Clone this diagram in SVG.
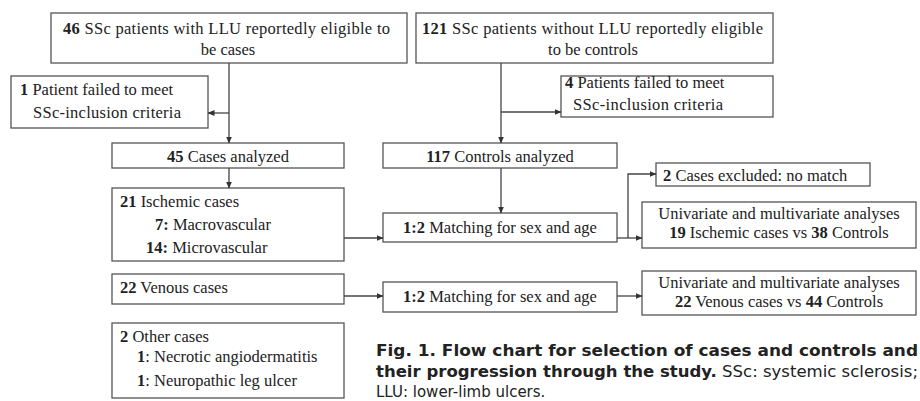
<svg xmlns="http://www.w3.org/2000/svg" width="920" height="401" viewBox="0 0 920 401">
<style>
.box{fill:#fff;stroke:#555;stroke-width:1.3}
.t{font-size:16.5px;fill:#222}
.c{text-anchor:middle}
.b{font-weight:bold}
.cap{font-size:15px;fill:#222}
.ln{fill:none;stroke:#444;stroke-width:1.3}
</style>
<defs>
<marker id="ah" markerWidth="7" markerHeight="6" refX="6.5" refY="3" orient="auto" markerUnits="userSpaceOnUse">
<path d="M0,0 L7,3 L0,6 Z" fill="#333"/>
</marker>
</defs>
<rect width="920" height="401" fill="#fff"/>

<g id="nodes" font-family="Liberation Serif, DejaVu Serif, serif">
<g id="n-cases-eligible">
<rect class="box" x="51" y="13" width="356" height="50"/>
<text class="t" x="63" y="34" textLength="327" lengthAdjust="spacing"><tspan class="b">46</tspan> SSc patients with LLU reportedly eligible to</text>
<text class="t c" x="228" y="55">be cases</text>
</g>

<g id="n-controls-eligible">
<rect class="box" x="416" y="13" width="357" height="50"/>
<text class="t" x="422" y="34" textLength="341" lengthAdjust="spacing"><tspan class="b">121</tspan> SSc patients without LLU reportedly eligible</text>
<text class="t c" x="593" y="55">to be controls</text>
</g>

<g id="n-case-excluded">
<rect class="box" x="11" y="76" width="197" height="52"/>
<text class="t" x="20" y="95"><tspan class="b">1</tspan> Patient failed to meet</text>
<text class="t" x="33" y="118" textLength="148" lengthAdjust="spacing">SSc-inclusion criteria</text>
</g>

<g id="n-controls-excluded">
<rect class="box" x="561" y="76" width="212" height="41"/>
<text class="t" x="565" y="88"><tspan class="b">4</tspan> Patients failed to meet</text>
<text class="t" x="573" y="110" textLength="150" lengthAdjust="spacing">SSc-inclusion criteria</text>
</g>

<g id="n-cases-analyzed">
<rect class="box" x="112" y="143" width="232" height="25"/>
<text class="t c" x="228" y="162"><tspan class="b">45</tspan> Cases analyzed</text>
</g>

<g id="n-controls-analyzed">
<rect class="box" x="383" y="143" width="234" height="25"/>
<text class="t c" x="500" y="162"><tspan class="b">117</tspan> Controls analyzed</text>
</g>

<g id="n-ischemic">
<rect class="box" x="112" y="188" width="232" height="73"/>
<text class="t" x="120" y="207"><tspan class="b">21</tspan> Ischemic  cases</text>
<text class="t" x="155" y="230"><tspan class="b">7:</tspan> Macrovascular</text>
<text class="t" x="146" y="253"><tspan class="b">14:</tspan> Microvascular</text>
</g>

<g id="n-match1">
<rect class="box" x="383" y="213" width="234" height="29"/>
<text class="t c" x="500" y="233"><tspan class="b">1:2</tspan> Matching  for sex and age</text>
</g>

<g id="n-nomatch">
<rect class="box" x="656" y="163" width="214" height="23"/>
<text class="t" x="663" y="181"><tspan class="b">2</tspan> Cases excluded:  no match</text>
</g>

<g id="n-analysis1">
<rect class="box" x="642" y="202" width="274" height="46"/>
<text class="t c" x="779" y="219">Univariate  and multivariate analyses</text>
<text class="t c" x="779" y="238"><tspan class="b">19</tspan> Ischemic  cases vs <tspan class="b">38</tspan> Controls</text>
</g>

<g id="n-venous">
<rect class="box" x="112" y="274" width="232" height="30"/>
<text class="t" x="120" y="293"><tspan class="b">22</tspan> Venous cases</text>
</g>

<g id="n-match2">
<rect class="box" x="383" y="282" width="234" height="30"/>
<text class="t c" x="500" y="302"><tspan class="b">1:2</tspan> Matching  for sex and age</text>
</g>

<g id="n-analysis2">
<rect class="box" x="642" y="271" width="274" height="44"/>
<text class="t c" x="779" y="288">Univariate  and multivariate analyses</text>
<text class="t c" x="779" y="307"><tspan class="b">22</tspan> Venous cases vs <tspan class="b">44</tspan> Controls</text>
</g>

<g id="n-other">
<rect class="box" x="112" y="323" width="232" height="75"/>
<text class="t" x="120" y="342"><tspan class="b">2</tspan> Other cases</text>
<text class="t" x="137" y="362"><tspan class="b">1</tspan>: Necrotic angiodermatitis</text>
<text class="t" x="137" y="386"><tspan class="b">1</tspan>: Neuropathic  leg ulcer</text>
</g>
</g>

<g id="connectors">
<path class="ln" d="M229,63 V143" marker-end="url(#ah)"/>
<path class="ln" d="M229,113 H208" marker-end="url(#ah)"/>
<path class="ln" d="M501,63 V143" marker-end="url(#ah)"/>
<path class="ln" d="M501,112 H561" marker-end="url(#ah)"/>
<path class="ln" d="M229,168 V188" marker-end="url(#ah)"/>
<path class="ln" d="M501,168 V213" marker-end="url(#ah)"/>
<path class="ln" d="M344,238 H383" marker-end="url(#ah)"/>
<path class="ln" d="M617,238 H642" marker-end="url(#ah)"/>
<path class="ln" d="M628,238 V174 H656" marker-end="url(#ah)"/>
<path class="ln" d="M344,296 H383" marker-end="url(#ah)"/>
<path class="ln" d="M617,296 H642" marker-end="url(#ah)"/>
</g>

<g id="caption" font-family="DejaVu Sans, Verdana, sans-serif">
<text class="cap" x="376" y="356" font-weight="bold" textLength="542" lengthAdjust="spacingAndGlyphs">Fig. 1. Flow chart for selection of cases and controls and</text>
<text class="cap" x="376" y="377" textLength="542" lengthAdjust="spacingAndGlyphs"><tspan font-weight="bold">their progression through the study.</tspan> SSc: systemic sclerosis;</text>
<text class="cap" x="376" y="397">LLU: lower-limb ulcers.</text>
</g>
</svg>
